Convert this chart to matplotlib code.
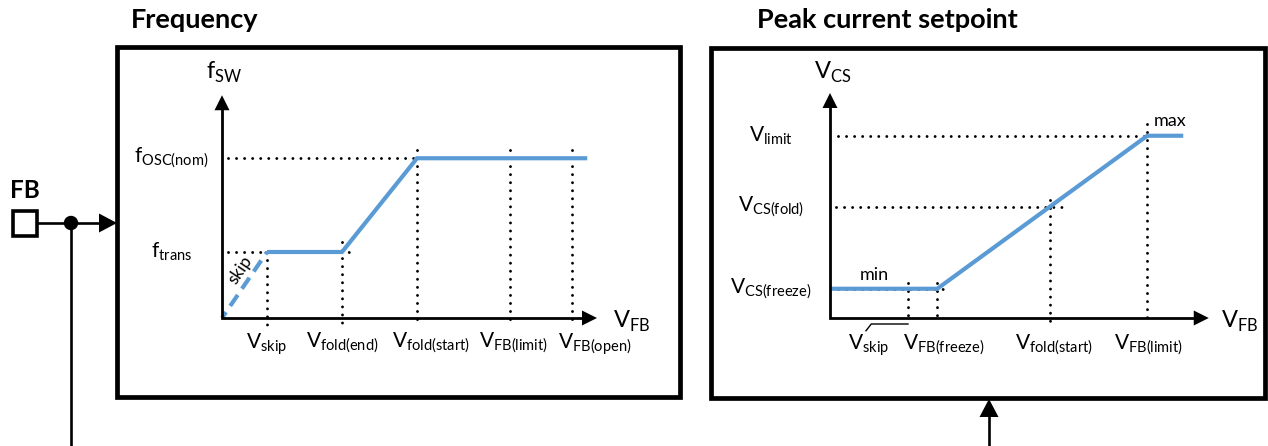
import matplotlib
matplotlib.use("Agg")
import matplotlib.pyplot as plt
from matplotlib.patches import Rectangle, Circle, Polygon
import numpy as np

plt.rcParams['font.family'] = ['Lato', 'DejaVu Sans']

W, H, DPI = 1268, 446, 100
BLUE = '#5B9BD5'
UNIT = 75.0  # pixels per chart unit (same on both axes)

# ---------------- Frequency chart ----------------
freq_tick_labels = [r'V$_\mathregular{skip}$', r'V$_\mathregular{fold(end)}$',
                    r'V$_\mathregular{fold(start)}$', r'V$_\mathregular{FB(limit)}$',
                    r'V$_\mathregular{FB(open)}$']
freq_tick_x = [0.60, 1.60, 2.60, 3.84, 4.67]
freq_label_x = [0.60, 1.60, 2.79, 3.88, 4.97]
freq_level_labels = [r'f$_\mathregular{OSC(nom)}$', r'f$_\mathregular{trans}$']
freq_level_y = [2.13, 0.88]
freq_curve_x = [0.60, 1.60, 2.60, 4.87]
freq_curve_y = [0.88, 0.88, 2.13, 2.13]
skip_burst_x = [0.0, 0.60]
skip_burst_y = [0.0, 0.88]

# ---------------- Peak current setpoint chart ----------------
cs_tick_labels = [r'V$_\mathregular{skip}$', r'V$_\mathregular{FB(freeze)}$',
                  r'V$_\mathregular{fold(start)}$', r'V$_\mathregular{FB(limit)}$']
cs_tick_x = [1.04, 1.43, 2.93, 4.23]
cs_label_x = [0.51, 1.52, 2.99, 4.25]
cs_level_labels = [r'V$_\mathregular{limit}$', r'V$_\mathregular{CS(fold)}$',
                   r'V$_\mathregular{CS(freeze)}$']
cs_level_y = [2.43, 1.48, 0.39]
cs_curve_x = [0.0, 1.43, 4.23, 4.71]
cs_curve_y = [0.39, 0.39, 2.43, 2.43]

DOT = dict(color='black', lw=2.1, linestyle=(0, (0.01, 2.75)),
           dash_capstyle='round', clip_on=False, zorder=2)
LBL = 15
AXLBL = 17


def head(ax, tip, direction, length, width, scale=1.0):
    """Filled triangular arrow head; sizes given in pixels."""
    d = np.asarray(direction, float)
    d /= np.hypot(*d)
    n = np.array([-d[1], d[0]])
    tip = np.asarray(tip, float)
    base = tip - d * length / scale
    pts = [tip, base + n * width / 2 / scale, base - n * width / 2 / scale]
    ax.add_patch(Polygon(pts, closed=True, color='black', lw=0,
                         clip_on=False, zorder=5))
    return base


fig = plt.figure(figsize=(W / DPI, H / DPI), dpi=DPI)

# Background layer in pixel coordinates: frames, pin and wiring
bg = fig.add_axes([0, 0, 1, 1])
bg.set_xlim(0, W)
bg.set_ylim(H, 0)
bg.axis('off')

for (x0, y0, x1, y1) in [(117, 47, 680, 397), (711, 48, 1265, 398)]:
    bg.add_patch(Rectangle((x0, y0), x1 - x0, y1 - y0, fill=False,
                           lw=3.4, ec='black', joinstyle='miter'))

bg.text(131, 28, 'Frequency', fontsize=19.5, fontweight='bold',
        va='baseline')
bg.text(757, 28, 'Peak current setpoint', fontsize=19.5, fontweight='bold',
        va='baseline')

# FB pin
bg.text(25, 198, 'FB', fontsize=17.5, fontweight='bold', ha='center',
        va='baseline')
bg.add_patch(Rectangle((13, 211), 24, 25, fill=False, lw=2.6, ec='black',
                       joinstyle='miter'))
bg.plot([38, 100], [223, 223], color='black', lw=1.9)
head(bg, (117, 223), (1, 0), 18, 19)
bg.add_patch(Circle((71, 223), 6.5, color='black', zorder=5))
bg.plot([71, 71], [223, H + 2], color='black', lw=1.9, clip_on=False)
bg.plot([989, 989], [H + 2, 415], color='black', lw=1.9, clip_on=False)
head(bg, (989, 399), (0, -1), 18, 19)


def chart_axes(ox, oy):
    ax = fig.add_axes([ox / W, (H - oy) / H, 5.6 * UNIT / W, 3.3 * UNIT / H])
    ax.set_xlim(0, 5.6)
    ax.set_ylim(0, 3.3)
    ax.axis('off')
    return ax


def draw_axes(ax, xtip, ytip):
    hl, hw = 15, 15
    ax.plot([0, 0, xtip - hl / UNIT], [ytip - hl / UNIT, 0, 0], color='black',
            lw=2.0, solid_joinstyle='miter', clip_on=False, zorder=4)
    head(ax, (xtip, 0), (1, 0), hl, hw, scale=UNIT)
    head(ax, (0, ytip), (0, 1), hl, hw, scale=UNIT)


# ---------------- Frequency chart drawing ----------------
ax1 = chart_axes(222, 318)
draw_axes(ax1, 5.0, 2.97)
ax1.text(0.03, 3.27, r'f$_\mathregular{SW}$', fontsize=AXLBL, ha='center',
         va='center')
ax1.text(5.21, -0.04, r'V$_\mathregular{FB}$', fontsize=AXLBL, ha='left',
         va='center')

# guide lines
ax1.plot([0.08, 2.60], [2.13, 2.13], **DOT)
ax1.plot([0.08, 1.75], [0.88, 0.88], **DOT)
ax1.plot([0.60, 0.60], [0.88, -0.09], **DOT)
ax1.plot([1.60, 1.60], [1.01, -0.09], **DOT)
for x in freq_tick_x[2:]:
    ax1.plot([x, x], [2.24, -0.09], **DOT)

ax1.plot(freq_curve_x, freq_curve_y, color=BLUE, lw=3.0,
         solid_joinstyle='miter', solid_capstyle='butt', clip_on=False,
         zorder=3)
ax1.plot(skip_burst_x, skip_burst_y, color=BLUE, lw=3.0,
         linestyle=(1.5, (3.2, 1.8)), dash_capstyle='butt', clip_on=False,
         zorder=3)
ax1.text(0.24, 0.64, 'skip', fontsize=12.5, rotation=56, ha='center',
         va='center', rotation_mode='anchor')

for lbl, y in zip(freq_level_labels, freq_level_y):
    ax1.text(-0.67, y, lbl, fontsize=LBL, ha='center', va='center')
for lbl, x in zip(freq_tick_labels, freq_label_x):
    ax1.text(x, -0.17, lbl, fontsize=LBL, ha='center', va='top')

# ---------------- Peak current setpoint chart drawing ----------------
ax2 = chart_axes(830, 318)
draw_axes(ax2, 5.05, 3.0)
ax2.text(0.03, 3.28, r'V$_\mathregular{CS}$', fontsize=AXLBL, ha='center',
         va='center')
ax2.text(5.21, -0.05, r'V$_\mathregular{FB}$', fontsize=AXLBL, ha='left',
         va='center')

ax2.plot([0.11, 4.23], [2.43, 2.43], **DOT)
ax2.plot([0.08, 3.09], [1.48, 1.48], **DOT)
ax2.plot([0.10, 1.57], [0.39, 0.39], **DOT)
ax2.plot([4.23, 4.23], [2.59, -0.09], **DOT)
ax2.plot([2.93, 2.93], [1.57, -0.09], **DOT)
ax2.plot([1.43, 1.43], [0.47, -0.05], **DOT)
ax2.plot([1.04, 1.04], [0.47, -0.07], **DOT)

ax2.plot(cs_curve_x, cs_curve_y, color=BLUE, lw=3.0,
         solid_joinstyle='miter', solid_capstyle='butt', clip_on=False,
         zorder=3)
ax2.text(0.59, 0.57, 'min', fontsize=13, ha='center', va='center')
ax2.text(4.53, 2.63, 'max', fontsize=13, ha='center', va='center')

# leader from the V_skip label to its guide line
ax2.plot([0.48, 0.55, 1.04], [-0.17, -0.08, -0.08], color='black', lw=1.0,
         clip_on=False, zorder=3)

for lbl, x in zip(cs_tick_labels, cs_label_x):
    ax2.text(x, -0.19, lbl, fontsize=LBL, ha='center', va='top')
for lbl, y in zip(cs_level_labels, cs_level_y):
    ax2.text(-0.79, y, lbl, fontsize=LBL, ha='center', va='center')

fig.savefig('out.png', dpi=DPI)
